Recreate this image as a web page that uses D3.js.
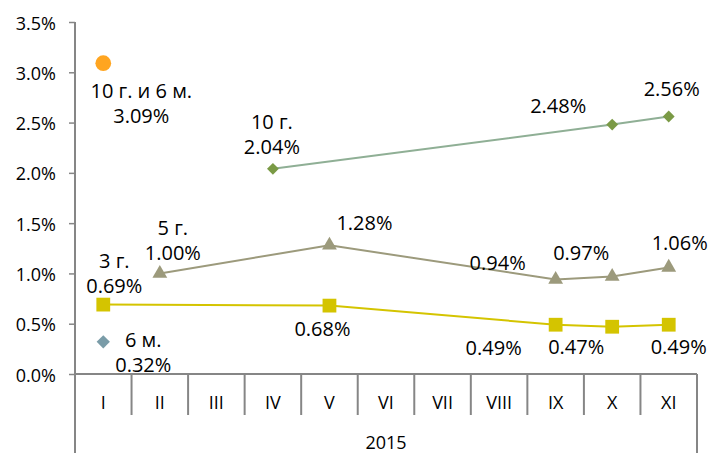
<!DOCTYPE html>
<meta charset="utf-8">
<script src="https://d3js.org/d3.v7.min.js"></script>
<style>
  body { margin: 0; background: #fff; }
  text { font-family: "Open Sans", "Noto Sans", sans-serif; fill: #000; }
</style>
<div id="chart"></div>
<script>
const months = ["I", "II", "III", "IV", "V", "VI", "VII", "VIII", "IX", "X", "XI"];
const yTicks = [0, 0.5, 1, 1.5, 2, 2.5, 3, 3.5];
const yearLabel = "2015";

// null = no value that month
const tenYear = [null, null, null, 2.04, null, null, null, null, null, 2.48, 2.56];
const fiveYear = [null, 1.00, null, null, 1.28, null, null, null, 0.94, 0.97, 1.06];
const threeYear = [0.69, null, null, null, 0.68, null, null, null, 0.49, 0.47, 0.49];
const sixMonth = [0.32, null, null, null, null, null, null, null, null, null, null];
const tenSixMonth = [3.09, null, null, null, null, null, null, null, null, null, null];

const width = 709, height = 453;
const margin = {left: 75, right: 12, top: 22, bottom: 79};

const svg = d3.select("#chart").append("svg")
    .attr("width", width)
    .attr("height", height);

const x = d3.scaleBand()
    .domain(months)
    .range([margin.left, width - margin.right]);

const y = d3.scaleLinear()
    .domain([0, 3.5])
    .range([height - margin.bottom, margin.top]);

const axisColor = "#868686";
const fmt = v => v.toFixed(2) + "%";

// y axis
const yAxis = svg.append("g")
    .attr("transform", `translate(${margin.left},0)`)
    .call(d3.axisLeft(y).tickValues(yTicks).tickSize(6).tickFormat(d => d.toFixed(1) + "%"));
yAxis.select(".domain").remove();
yAxis.selectAll(".tick line").attr("stroke", axisColor).attr("stroke-width", 1.5);
yAxis.selectAll(".tick text")
    .attr("x", -19)
    .attr("dy", null)
    .attr("dominant-baseline", "central")
    .style("font-size", "18px")
    .style("font-family", "'Open Sans', sans-serif")
    .attr("fill", "#000");

svg.append("line")
    .attr("x1", margin.left).attr("x2", margin.left)
    .attr("y1", margin.top).attr("y2", height)
    .attr("stroke", axisColor).attr("stroke-width", 2);

// x axis (category boxes)
const y0 = y(0);
svg.append("line")
    .attr("x1", margin.left).attr("x2", x.range()[1])
    .attr("y1", y0).attr("y2", y0)
    .attr("stroke", axisColor).attr("stroke-width", 2);

svg.append("g").selectAll("line")
    .data(months.slice(1))
    .join("line")
    .attr("x1", d => x(d)).attr("x2", d => x(d))
    .attr("y1", y0).attr("y2", y0 + 41)
    .attr("stroke", axisColor).attr("stroke-width", 2);

svg.append("line")
    .attr("x1", x.range()[1]).attr("x2", x.range()[1])
    .attr("y1", y0).attr("y2", height)
    .attr("stroke", axisColor).attr("stroke-width", 2);

svg.append("g").selectAll("text")
    .data(months)
    .join("text")
    .attr("x", d => x(d) + x.bandwidth() / 2)
    .attr("y", y0 + 28)
    .attr("text-anchor", "middle")
    .attr("dominant-baseline", "central")
    .style("font-size", "18px")
    .text(d => d);

svg.append("text")
    .attr("x", (x.range()[0] + x.range()[1]) / 2)
    .attr("y", 442)
    .attr("text-anchor", "middle")
    .attr("dominant-baseline", "central")
    .style("font-size", "18px")
    .text(yearLabel);

// series
const cx = i => x(months[i]) + x.bandwidth() / 2;
const pts = arr => arr.map((v, i) => ({i, v})).filter(d => d.v !== null);

const line = d3.line().x(d => cx(d.i)).y(d => y(d.v));

function drawSeries(arr, lineColor, markColor, symbol, size, rotate) {
  const p = pts(arr);
  if (p.length > 1) {
    svg.append("path").datum(p)
      .attr("d", line)
      .attr("fill", "none")
      .attr("stroke", lineColor)
      .attr("stroke-width", 2);
  }
  svg.append("g").selectAll("path")
    .data(p)
    .join("path")
    .attr("transform", d => `translate(${cx(d.i)},${y(d.v)}) rotate(${rotate || 0})`)
    .attr("d", d3.symbol().type(symbol).size(size))
    .attr("fill", markColor);
}

drawSeries(threeYear, "#d4c400", "#d4c400", d3.symbolSquare, 190);
drawSeries(fiveYear, "#9c9a7c", "#9c9a7c", d3.symbolTriangle, 95);
drawSeries(tenYear, "#8faf95", "#7a9a45", d3.symbolSquare, 70, 45);
drawSeries(sixMonth, "#7a9ca8", "#7a9ca8", d3.symbolSquare, 88, 45);
drawSeries(tenSixMonth, "#ffa520", "#ffa520", d3.symbolCircle, 195);

// data labels: [series, month index, prefix, dx, dy] (offset of label block centre from point)
const labels = [
  [tenSixMonth, 0, "10 г. и 6 м.", 38, 39],
  [tenYear, 3, "10 г.", -1, -35],
  [tenYear, 9, null, -54, -20],
  [tenYear, 10, null, 3, -29],
  [fiveYear, 1, "5 г.", 13, -34],
  [fiveYear, 4, null, 35, -23],
  [fiveYear, 8, null, -58, -17],
  [fiveYear, 9, null, -31, -24],
  [fiveYear, 10, null, 11, -25],
  [threeYear, 0, "3 г.", 11, -32],
  [threeYear, 4, null, -7, 22],
  [threeYear, 8, null, -62, 22],
  [threeYear, 9, null, -36, 19],
  [threeYear, 10, null, 10, 21],
  [sixMonth, 0, "6 м.", 40, 10]
];

const lh = 25;
labels.forEach(([arr, i, prefix, dx, dy]) => {
  const px = cx(i) + dx, py = y(arr[i]) + dy;
  const t = svg.append("text")
    .attr("text-anchor", "middle")
    .attr("dominant-baseline", "central")
    .style("font-size", "20px");
  if (prefix) {
    t.append("tspan").attr("x", px).attr("y", py - lh / 2).text(prefix);
    t.append("tspan").attr("x", px).attr("y", py + lh / 2).text(fmt(arr[i]));
  } else {
    t.append("tspan").attr("x", px).attr("y", py).text(fmt(arr[i]));
  }
});
</script>
